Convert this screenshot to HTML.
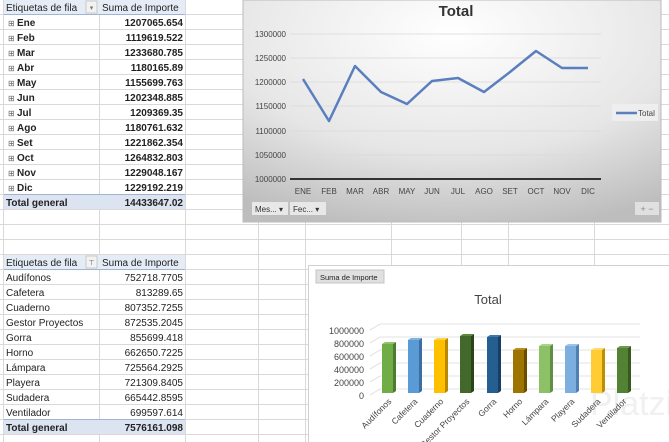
<!DOCTYPE html>
<html><head><meta charset="utf-8"><style>
html,body{margin:0;padding:0;background:#fff;}
svg{display:block;font-family:"Liberation Sans",sans-serif;}
</style></head><body>
<svg width="669" height="442" viewBox="0 0 669 442" xmlns="http://www.w3.org/2000/svg">
<defs>
<radialGradient id="bg" cx="0.5" cy="0.15" r="0.9">
<stop offset="0" stop-color="#ffffff"/><stop offset="0.6" stop-color="#e6e6e6"/><stop offset="1" stop-color="#bdbdbd"/>
</radialGradient>
</defs>
<g stroke="#d9d9d9" stroke-width="1">
<line x1="0" y1="14.5" x2="669" y2="14.5"/><line x1="0" y1="29.5" x2="669" y2="29.5"/><line x1="0" y1="44.5" x2="669" y2="44.5"/><line x1="0" y1="59.5" x2="669" y2="59.5"/><line x1="0" y1="74.5" x2="669" y2="74.5"/><line x1="0" y1="89.5" x2="669" y2="89.5"/><line x1="0" y1="104.5" x2="669" y2="104.5"/><line x1="0" y1="119.5" x2="669" y2="119.5"/><line x1="0" y1="134.5" x2="669" y2="134.5"/><line x1="0" y1="149.5" x2="669" y2="149.5"/><line x1="0" y1="164.5" x2="669" y2="164.5"/><line x1="0" y1="179.5" x2="669" y2="179.5"/><line x1="0" y1="194.5" x2="669" y2="194.5"/><line x1="0" y1="209.5" x2="669" y2="209.5"/><line x1="0" y1="224.5" x2="669" y2="224.5"/><line x1="0" y1="239.5" x2="669" y2="239.5"/><line x1="0" y1="254.5" x2="669" y2="254.5"/><line x1="0" y1="269.5" x2="669" y2="269.5"/><line x1="0" y1="284.5" x2="669" y2="284.5"/><line x1="0" y1="299.5" x2="669" y2="299.5"/><line x1="0" y1="314.5" x2="669" y2="314.5"/><line x1="0" y1="329.5" x2="669" y2="329.5"/><line x1="0" y1="344.5" x2="669" y2="344.5"/><line x1="0" y1="359.5" x2="669" y2="359.5"/><line x1="0" y1="374.5" x2="669" y2="374.5"/><line x1="0" y1="389.5" x2="669" y2="389.5"/><line x1="0" y1="404.5" x2="669" y2="404.5"/><line x1="0" y1="419.5" x2="669" y2="419.5"/><line x1="0" y1="434.5" x2="669" y2="434.5"/>
<line x1="3.5" y1="0" x2="3.5" y2="442"/><line x1="99.5" y1="0" x2="99.5" y2="442"/><line x1="185.5" y1="0" x2="185.5" y2="442"/><line x1="258.5" y1="0" x2="258.5" y2="442"/><line x1="305.5" y1="0" x2="305.5" y2="442"/><line x1="391.5" y1="0" x2="391.5" y2="442"/><line x1="461.5" y1="0" x2="461.5" y2="442"/><line x1="508.5" y1="0" x2="508.5" y2="442"/><line x1="594.5" y1="0" x2="594.5" y2="442"/>
</g>
<rect x="4" y="0" width="181" height="14" fill="#e6ecf6"/>
<rect x="4" y="195" width="181" height="14" fill="#dce4f2"/>
<line x1="4" y1="14.5" x2="185" y2="14.5" stroke="#9fb3d4"/>
<line x1="4" y1="194.5" x2="185" y2="194.5" stroke="#9fb3d4"/>
<rect x="86" y="1" width="11" height="12" fill="#f2f2f2" stroke="#c8c8c8"/>
<text x="91.5" y="10" font-size="7" fill="#777" text-anchor="middle">▾</text>
<g font-size="10" fill="#222">
<text x="6" y="11">Etiquetas de fila</text>
<text x="102" y="11">Suma de Importe</text>
</g>
<g font-size="10" fill="#222" font-weight="bold">
<g font-weight="normal" fill="#666" font-size="8">
<text x="8" y="26">⊞</text><text x="8" y="41">⊞</text><text x="8" y="56">⊞</text><text x="8" y="71">⊞</text><text x="8" y="86">⊞</text><text x="8" y="101">⊞</text><text x="8" y="116">⊞</text><text x="8" y="131">⊞</text><text x="8" y="146">⊞</text><text x="8" y="161">⊞</text><text x="8" y="176">⊞</text><text x="8" y="191">⊞</text>
</g>
<text x="17" y="26">Ene</text><text x="17" y="41">Feb</text><text x="17" y="56">Mar</text><text x="17" y="71">Abr</text><text x="17" y="86">May</text><text x="17" y="101">Jun</text><text x="17" y="116">Jul</text><text x="17" y="131">Ago</text><text x="17" y="146">Set</text><text x="17" y="161">Oct</text><text x="17" y="176">Nov</text><text x="17" y="191">Dic</text>
<g text-anchor="end">
<text x="183" y="26">1207065.654</text><text x="183" y="41">1119619.522</text><text x="183" y="56">1233680.785</text><text x="183" y="71">1180165.89</text><text x="183" y="86">1155699.763</text><text x="183" y="101">1202348.885</text><text x="183" y="116">1209369.35</text><text x="183" y="131">1180761.632</text><text x="183" y="146">1221862.354</text><text x="183" y="161">1264832.803</text><text x="183" y="176">1229048.167</text><text x="183" y="191">1229192.219</text>
<text x="183" y="206">14433647.02</text>
</g>
<text x="6" y="206" text-anchor="start">Total general</text>
</g>
<rect x="4" y="255" width="181" height="14" fill="#e6ecf6"/>
<rect x="4" y="420" width="181" height="14" fill="#dce4f2"/>
<line x1="4" y1="269.5" x2="185" y2="269.5" stroke="#9fb3d4"/>
<line x1="4" y1="419.5" x2="185" y2="419.5" stroke="#9fb3d4"/>
<rect x="86" y="256" width="11" height="12" fill="#f2f2f2" stroke="#c8c8c8"/>
<text x="91.5" y="265" font-size="7" fill="#555" text-anchor="middle">⊤</text>
<g font-size="10" fill="#222">
<text x="6" y="266">Etiquetas de fila</text>
<text x="102" y="266">Suma de Importe</text>
<text x="6" y="281">Audífonos</text><text x="6" y="296">Cafetera</text><text x="6" y="311">Cuaderno</text><text x="6" y="326">Gestor Proyectos</text><text x="6" y="341">Gorra</text><text x="6" y="356">Horno</text><text x="6" y="371">Lámpara</text><text x="6" y="386">Playera</text><text x="6" y="401">Sudadera</text><text x="6" y="416">Ventilador</text>
<g text-anchor="end">
<text x="183" y="281">752718.7705</text><text x="183" y="296">813289.65</text><text x="183" y="311">807352.7255</text><text x="183" y="326">872535.2045</text><text x="183" y="341">855699.418</text><text x="183" y="356">662650.7225</text><text x="183" y="371">725564.2925</text><text x="183" y="386">721309.8405</text><text x="183" y="401">665442.8595</text><text x="183" y="416">699597.614</text>
<text x="183" y="431" font-weight="bold">7576161.098</text>
</g>
<text x="6" y="431" font-weight="bold">Total general</text>
</g>
<rect x="243" y="0" width="418" height="222" fill="url(#bg)" stroke="#bbb"/>
<text x="456" y="16" font-size="15" font-weight="bold" text-anchor="middle" fill="#333">Total</text>
<g stroke="#d8d8d8" stroke-width="0.8">
<line x1="290" y1="34" x2="601" y2="34"/><line x1="290" y1="58" x2="601" y2="58"/><line x1="290" y1="82" x2="601" y2="82"/><line x1="290" y1="106" x2="601" y2="106"/><line x1="290" y1="131" x2="601" y2="131"/><line x1="290" y1="155" x2="601" y2="155"/>
</g>
<line x1="290" y1="179" x2="601" y2="179" stroke="#333" stroke-width="2"/>
<g font-size="8" fill="#444" text-anchor="end">
<text x="286" y="37">1300000</text><text x="286" y="61">1250000</text><text x="286" y="85">1200000</text><text x="286" y="109">1150000</text><text x="286" y="134">1100000</text><text x="286" y="158">1050000</text><text x="286" y="182">1000000</text>
</g>
<g font-size="8" fill="#444" text-anchor="middle">
<text x="303" y="194">ENE</text><text x="329" y="194">FEB</text><text x="355" y="194">MAR</text><text x="381" y="194">ABR</text><text x="407" y="194">MAY</text><text x="432" y="194">JUN</text><text x="458" y="194">JUL</text><text x="484" y="194">AGO</text><text x="510" y="194">SET</text><text x="536" y="194">OCT</text><text x="562" y="194">NOV</text><text x="588" y="194">DIC</text>
</g>
<polyline fill="none" stroke="#5a7fbf" stroke-width="2.5" stroke-linejoin="round" points="303,79 329,121 355,66 381,92 407,104 432,81 458,78 484,92 510,72 536,51 562,68 588,68"/>
<rect x="612" y="104" width="46" height="17" fill="#eeeeee"/>
<line x1="616" y1="113" x2="637" y2="113" stroke="#5a7fbf" stroke-width="2.5"/>
<text x="638" y="116" font-size="8" fill="#444">Total</text>
<rect x="252" y="202" width="36" height="13" fill="#e8e8e8"/>
<rect x="290" y="202" width="36" height="13" fill="#e8e8e8"/>
<text x="255" y="212" font-size="8" fill="#333">Mes... ▾</text>
<text x="293" y="212" font-size="8" fill="#333">Fec... ▾</text>
<rect x="635" y="202" width="24" height="13" fill="#e0e0e0"/>
<text x="647" y="212" font-size="9" fill="#888" text-anchor="middle">+ −</text>
<rect x="308.5" y="265.5" width="362" height="180" fill="#fff" stroke="#d0d0d0"/>
<rect x="316" y="270" width="68" height="13" fill="#e0e0e0" stroke="#c4c4c4"/>
<text x="320" y="280" font-size="7.5" fill="#222">Suma de Importe</text>
<text x="488" y="304" font-size="13" text-anchor="middle" fill="#444">Total</text>
<g stroke="#dadada" stroke-width="0.8" fill="none">
<polyline points="370,395 380,389 640,389"/><polyline points="370,382 380,376 640,376"/><polyline points="370,369 380,363 640,363"/><polyline points="370,356 380,350 640,350"/><polyline points="370,343 380,337 640,337"/><polyline points="370,330 380,324 640,324"/>
</g>
<g font-size="9" fill="#444" text-anchor="end">
<text x="364" y="334">1000000</text><text x="364" y="347">800000</text><text x="364" y="360">600000</text><text x="364" y="373">400000</text><text x="364" y="386">200000</text><text x="364" y="399">0</text>
</g>
<text x="590" y="415" font-size="34" fill="#f0f0f0">Platzi</text>
<g>
<g><rect x="382" y="344" width="11" height="49" fill="#70ad47"/><polygon points="393,344 396,342 396,391 393,393" fill="#4e7a31"/><polygon points="382,344 385,342 396,342 393,344" fill="#8cc468"/></g>
<g><rect x="408" y="340" width="11" height="53" fill="#5b9bd5"/><polygon points="419,340 422,338 422,391 419,393" fill="#3c6f9f"/><polygon points="408,340 411,338 422,338 419,340" fill="#7eb3e2"/></g>
<g><rect x="434" y="340" width="11" height="53" fill="#ffc000"/><polygon points="445,340 448,338 448,391 445,393" fill="#b88900"/><polygon points="434,340 437,338 448,338 445,340" fill="#ffd24d"/></g>
<g><rect x="460" y="336" width="11" height="57" fill="#43682b"/><polygon points="471,336 474,334 474,391 471,393" fill="#2a4419"/><polygon points="460,336 463,334 474,334 471,336" fill="#5a8a3a"/></g>
<g><rect x="487" y="337" width="11" height="56" fill="#255e91"/><polygon points="498,337 501,335 501,391 498,393" fill="#163f63"/><polygon points="487,337 490,335 501,335 498,337" fill="#3a78ae"/></g>
<g><rect x="513" y="350" width="11" height="43" fill="#9e7400"/><polygon points="524,350 527,348 527,391 524,393" fill="#6a4e00"/><polygon points="513,350 516,348 527,348 524,350" fill="#b88e1e"/></g>
<g><rect x="539" y="346" width="11" height="47" fill="#8cc168"/><polygon points="550,346 553,344 553,391 550,393" fill="#5f8f42"/><polygon points="539,346 542,344 553,344 550,346" fill="#a8d48a"/></g>
<g><rect x="565" y="346" width="11" height="47" fill="#7caee0"/><polygon points="576,346 579,344 579,391 576,393" fill="#4f80b3"/><polygon points="565,346 568,344 579,344 576,346" fill="#9cc4ea"/></g>
<g><rect x="591" y="350" width="11" height="43" fill="#ffcd33"/><polygon points="602,350 605,348 605,391 602,393" fill="#bf8f00"/><polygon points="591,350 594,348 605,348 602,350" fill="#ffdc70"/></g>
<g><rect x="617" y="348" width="11" height="45" fill="#548235"/><polygon points="628,348 631,346 631,391 628,393" fill="#385a22"/><polygon points="617,348 620,346 631,346 628,348" fill="#6c9c4a"/></g>
</g>
<g font-size="8.5" fill="#444" text-anchor="end">
<text transform="translate(392,402) rotate(-45)">Audífonos</text>
<text transform="translate(418,402) rotate(-45)">Cafetera</text>
<text transform="translate(444,402) rotate(-45)">Cuaderno</text>
<text transform="translate(470,402) rotate(-45)">Gestor Proyectos</text>
<text transform="translate(497,402) rotate(-45)">Gorra</text>
<text transform="translate(523,402) rotate(-45)">Horno</text>
<text transform="translate(549,402) rotate(-45)">Lámpara</text>
<text transform="translate(575,402) rotate(-45)">Playera</text>
<text transform="translate(601,402) rotate(-45)">Sudadera</text>
<text transform="translate(627,402) rotate(-45)">Ventilador</text>
</g>
</svg>
</body></html>
